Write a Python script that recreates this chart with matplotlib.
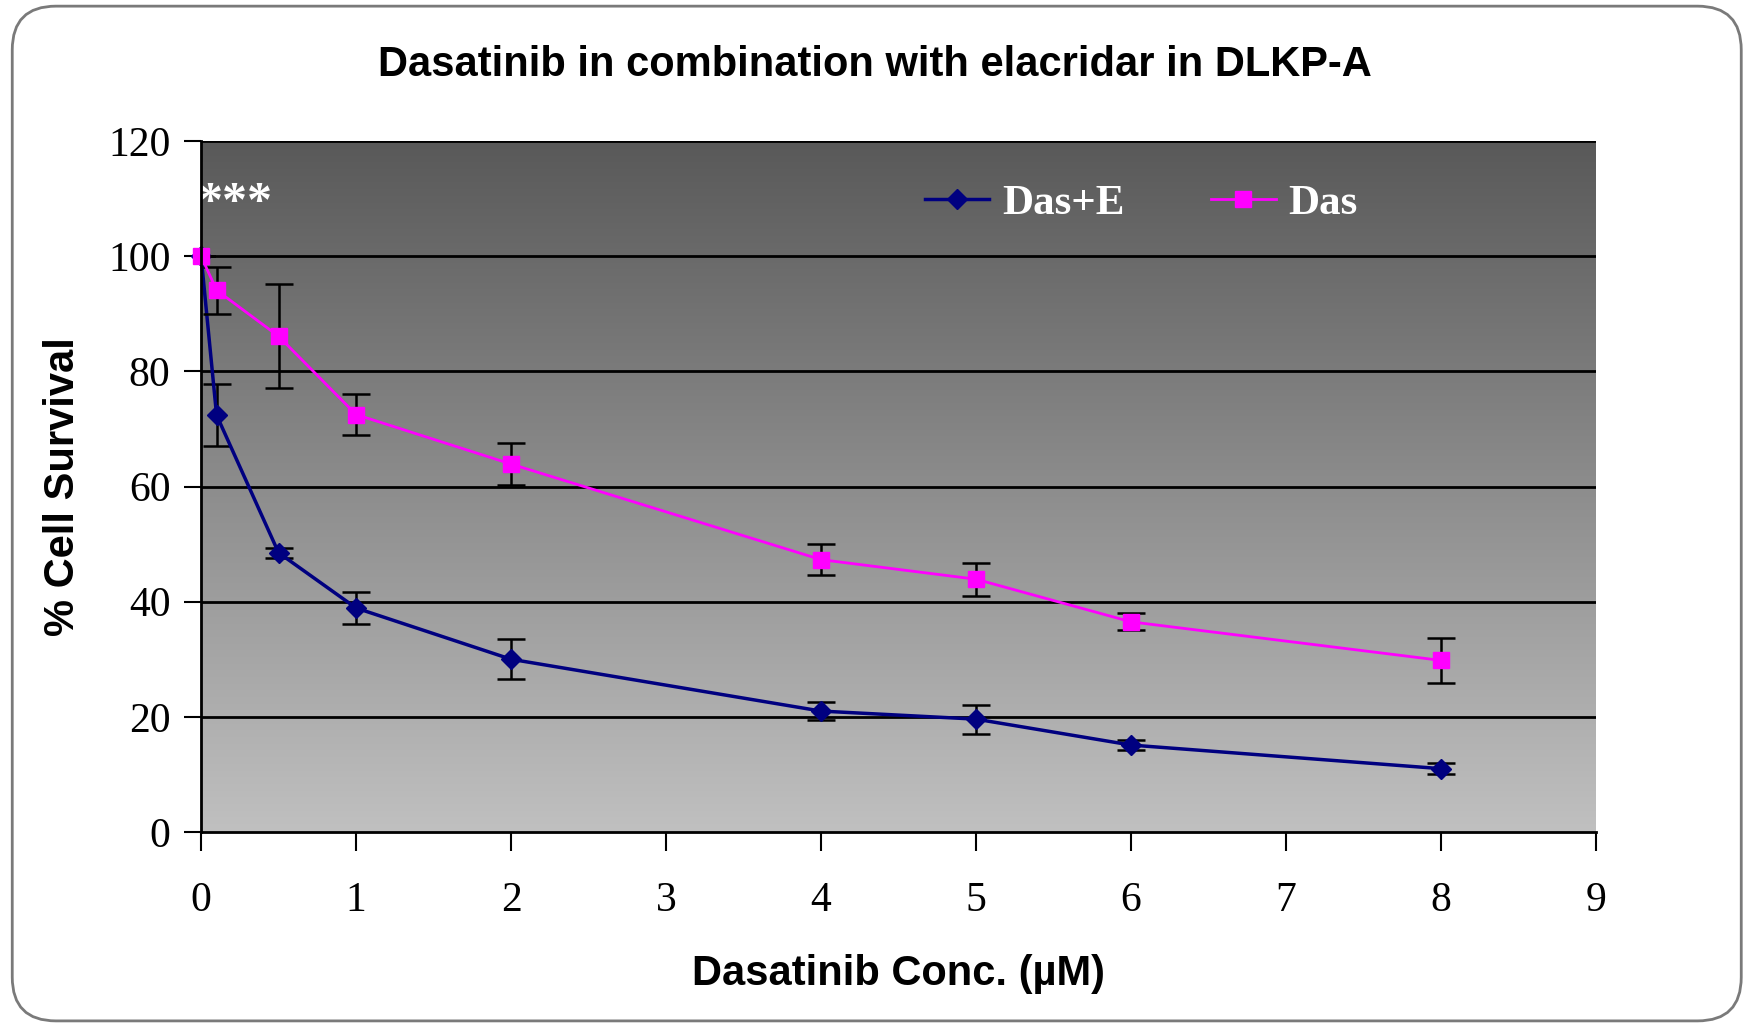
import numpy as np
import matplotlib
matplotlib.use("Agg")
import matplotlib.pyplot as plt
from matplotlib.colors import LinearSegmentedColormap
from matplotlib.patches import FancyBboxPatch
from matplotlib.lines import Line2D

# Dose-response data: dasatinib alone vs dasatinib + elacridar
conc = [0, 0.1, 0.5, 1, 2, 4, 5, 6, 8]
das_e = [100, 72.4, 48.5, 38.9, 30.0, 21.0, 19.6, 15.1, 11.0]
das_e_err = [0, 5.4, 0.9, 2.8, 3.5, 1.6, 2.5, 0.8, 0.9]
das = [100, 94.1, 86.1, 72.5, 63.9, 47.3, 43.9, 36.5, 29.8]
das_err = [0, 4.1, 9.0, 3.6, 3.7, 2.7, 2.9, 1.45, 3.9]

x_ticks = list(range(0, 10))
y_ticks = list(range(0, 121, 20))

SERIF = "Liberation Serif"
SANS = "Liberation Sans"
NAVY = "#000080"
MAGENTA = "#ff00ff"

fig = plt.figure(figsize=(17.5, 10.25), dpi=100)
ax = fig.add_axes([0.1149, 0.1883, 0.7971, 0.6741])

# rounded outline around the whole chart
frame = FancyBboxPatch((0.007, 0.004), 0.988, 0.99, boxstyle="round,pad=0,rounding_size=0.025",
                       transform=fig.transFigure, fill=False, edgecolor="#7a7a7a",
                       linewidth=2, mutation_aspect=1750 / 1025)
fig.patches.append(frame)

# vertical grey gradient behind the plot
grad_cmap = LinearSegmentedColormap.from_list("bg", ["#c0c0c0", "#595959"])
grad = np.linspace(0, 1, 256).reshape(-1, 1)
ax.imshow(grad, extent=[0, 9, 0, 120], origin="lower", aspect="auto",
          cmap=grad_cmap, zorder=0, interpolation="bicubic")

for y in y_ticks[1:]:
    ax.axhline(y, color="black", linewidth=2, zorder=1)

for vals, errs, col, mk, ms, lw, z in [(das_e, das_e_err, NAVY, "D", 10, 2.5, 3),
                                       (das, das_err, MAGENTA, "s", 12, 2, 4)]:
    eb = ax.errorbar(conc, vals, yerr=errs, color=col, marker=mk, markersize=ms,
                     linewidth=lw, ecolor="black", elinewidth=1.8, capsize=10,
                     capthick=1.8, zorder=z)
    eb.lines[0].set_clip_on(False)

ax.text(-0.02, 109, "***", color="white", fontsize=36, fontfamily=SERIF,
        fontweight="bold", ha="left", va="center", zorder=5)

ax.set_xlim(0, 9)
ax.set_ylim(0, 120)
ax.set_xticks(x_ticks)
ax.set_yticks(y_ticks)

for side in ["top", "right"]:
    ax.spines[side].set_visible(False)
for side in ["left", "bottom"]:
    ax.spines[side].set_linewidth(2)
    ax.spines[side].set_zorder(6)

ax.tick_params(axis="both", direction="out", width=1.5, labelsize=30, colors="black")
ax.tick_params(axis="x", length=14, pad=22)
ax.tick_params(axis="y", length=12, pad=10)
for lbl in ax.get_xticklabels() + ax.get_yticklabels():
    lbl.set_fontfamily(SERIF)

ax.set_xlabel("Dasatinib Conc. (\u00b5M)", fontsize=30, fontweight="bold",
              fontfamily=SANS, labelpad=24)
ax.set_ylabel("% Cell Survival", fontsize=30, fontweight="bold",
              fontfamily=SANS, labelpad=18)

fig.text(0.5, 0.937, "Dasatinib in combination with elacridar in DLKP-A",
         ha="center", va="center", fontsize=30, fontweight="bold", fontfamily=SANS)

handles = [Line2D([], [], color=NAVY, marker="D", markersize=10, linewidth=2.5),
           Line2D([], [], color=MAGENTA, marker="s", markersize=12, linewidth=2)]
leg = ax.legend(handles, ["Das+E", "Das"], loc="center", bbox_to_anchor=(0.674, 0.91),
                ncol=2, frameon=False,
                prop={"family": SERIF, "weight": "bold", "size": 31},
                handlelength=1.5, handletextpad=0.3, columnspacing=2.0)
for t in leg.get_texts():
    t.set_color("white")

fig.savefig("out.png", dpi=100)
